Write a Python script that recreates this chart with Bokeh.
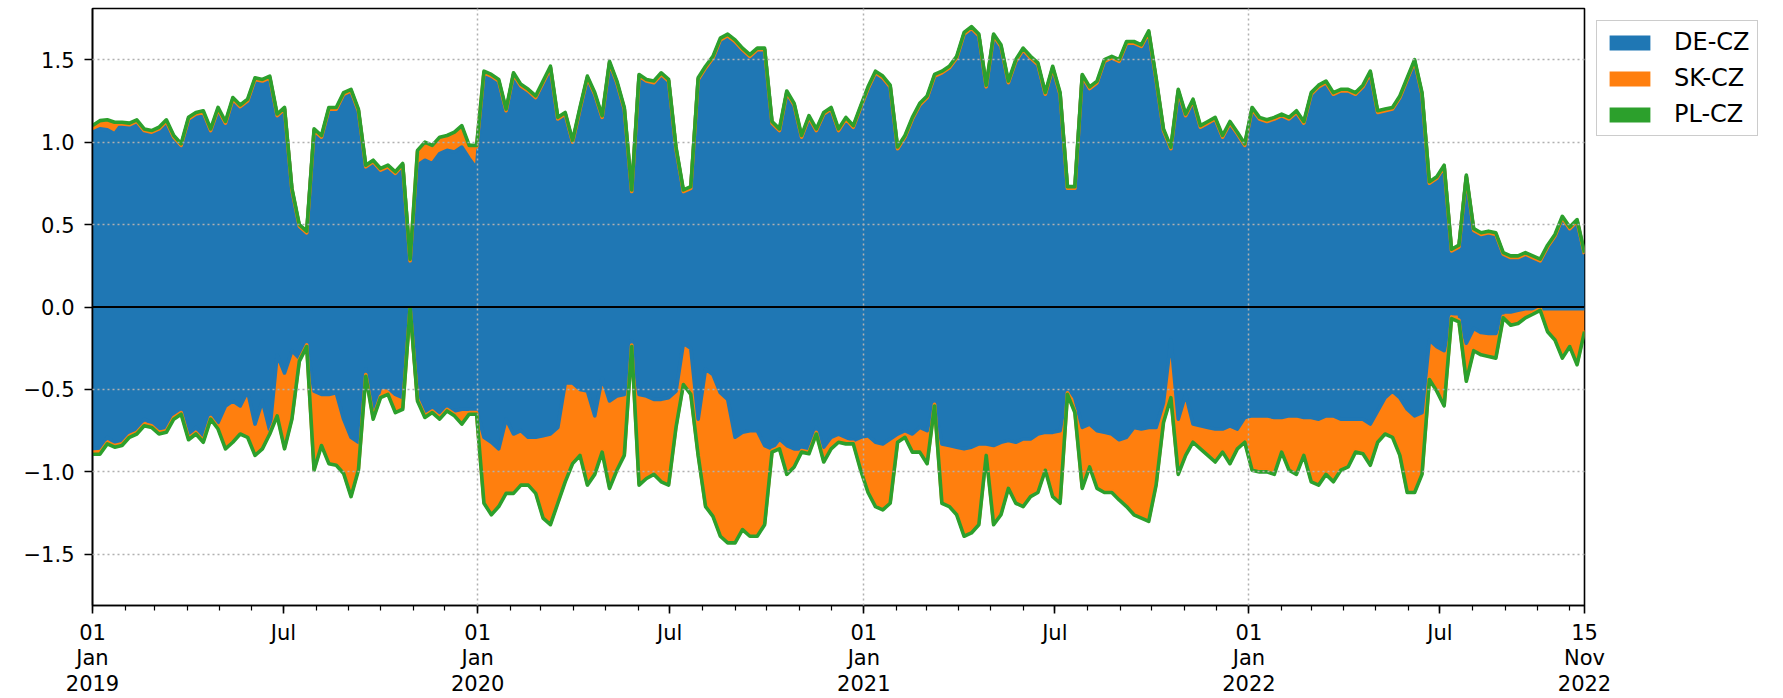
import numpy as np
import pandas as pd
from bokeh.plotting import figure
from bokeh.models import (ColumnDataSource, Range1d, FixedTicker, CustomJSTickFormatter,
                          Legend, LegendItem, Span)
from bokeh.embed import file_html
from bokeh.resources import INLINE

# ---------------- data (weekly samples) ----------------
start_date = "2019-01-01"
n_weeks = 203
dates = pd.date_range(start_date, periods=n_weeks, freq="7D")

series_names = ["DE-CZ", "SK-CZ", "PL-CZ"]
colors = ["#1f77b4", "#ff7f0e", "#2ca02c"]

de_pos = [
    1.06, 1.08, 1.075, 1.05, 1.11, 1.105, 1.125, 1.07, 1.06, 1.08,
    1.125, 1.03, 0.98, 1.14, 1.17, 1.18, 1.07, 1.20, 1.115, 1.26,
    1.215, 1.25, 1.38, 1.37, 1.39, 1.16, 1.20, 0.71, 0.49, 0.45,
    1.07, 1.03, 1.20, 1.20, 1.29, 1.31, 1.19, 0.85, 0.88, 0.83,
    0.85, 0.81, 0.86, 0.28, 0.86, 0.89, 0.87, 0.93, 0.95, 0.94,
    0.97, 0.90, 0.84, 1.42, 1.40, 1.37, 1.19, 1.41, 1.34, 1.31,
    1.27, 1.36, 1.45, 1.14, 1.17, 1.00, 1.20, 1.39, 1.29, 1.15,
    1.48, 1.36, 1.20, 0.70, 1.40, 1.37, 1.36, 1.41, 1.37, 0.96,
    0.70, 0.72, 1.38, 1.45, 1.51, 1.62, 1.645, 1.61, 1.56, 1.52,
    1.56, 1.56, 1.115, 1.07, 1.30, 1.225, 1.03, 1.15, 1.07, 1.17,
    1.20, 1.07, 1.14, 1.09, 1.21, 1.325, 1.42, 1.39, 1.335, 0.96,
    1.03, 1.14, 1.225, 1.27, 1.40, 1.42, 1.45, 1.51, 1.655, 1.69,
    1.645, 1.335, 1.645, 1.58, 1.36, 1.49, 1.56, 1.51, 1.47, 1.29,
    1.45, 1.29, 0.72, 0.72, 1.40, 1.325, 1.36, 1.49, 1.51, 1.49,
    1.60, 1.60, 1.58, 1.665, 1.38, 1.07, 0.96, 1.31, 1.16, 1.25,
    1.09, 1.115, 1.14, 1.03, 1.115, 1.05, 0.98, 1.20, 1.14, 1.125,
    1.14, 1.16, 1.14, 1.18, 1.115, 1.29, 1.335, 1.36, 1.29, 1.31,
    1.31, 1.29, 1.335, 1.42, 1.18, 1.19, 1.20, 1.27, 1.38, 1.49,
    1.29, 0.75, 0.78, 0.85, 0.34, 0.365, 0.79, 0.465, 0.44, 0.45,
    0.44, 0.32, 0.30, 0.30, 0.32, 0.30, 0.28, 0.365, 0.43, 0.54,
    0.475, 0.52, 0.32,
]
sk_pos = [
    0.03, 0.04, 0.05, 0.06, 0, 0, 0, 0, 0, 0,
    0, 0, 0, 0, 0, 0, 0, 0, 0, 0,
    0, 0, 0, 0, 0, 0, 0, 0, 0, 0,
    0, 0, 0, 0, 0, 0, 0, 0, 0, 0,
    0, 0, 0, 0, 0.08, 0.10, 0.10, 0.09, 0.08, 0.11,
    0.12, 0.07, 0.13, 0, 0, 0, 0, 0, 0, 0,
    0, 0, 0, 0, 0, 0, 0, 0, 0, 0,
    0, 0, 0, 0, 0, 0, 0, 0, 0, 0,
    0, 0, 0, 0, 0, 0, 0, 0, 0, 0,
    0, 0, 0, 0, 0, 0, 0, 0, 0, 0,
    0, 0, 0, 0, 0, 0, 0, 0, 0, 0,
    0, 0, 0, 0, 0, 0, 0, 0, 0, 0,
    0, 0, 0, 0, 0, 0, 0, 0, 0, 0,
    0, 0, 0, 0, 0, 0, 0, 0, 0, 0,
    0, 0, 0, 0, 0, 0, 0, 0, 0, 0,
    0, 0, 0, 0, 0, 0, 0, 0, 0, 0,
    0, 0, 0, 0, 0, 0, 0, 0, 0, 0,
    0, 0, 0, 0, 0, 0, 0, 0, 0, 0,
    0, 0, 0, 0, 0, 0, 0, 0, 0, 0,
    0, 0, 0, 0, 0, 0, 0, 0, 0, 0,
    0, 0, 0,
]
pl_pos = [
    0.01, 0.01, 0.01, 0.01, 0.01, 0.01, 0.01, 0.01, 0.01, 0.01,
    0.01, 0.01, 0.01, 0.01, 0.01, 0.01, 0.01, 0.01, 0.01, 0.01,
    0.01, 0.01, 0.01, 0.01, 0.01, 0.01, 0.01, 0.01, 0.01, 0.01,
    0.01, 0.01, 0.01, 0.01, 0.01, 0.01, 0.01, 0.01, 0.01, 0.01,
    0.01, 0.01, 0.01, 0.01, 0.01, 0.01, 0.01, 0.01, 0.01, 0.01,
    0.01, 0.01, 0.01, 0.01, 0.01, 0.01, 0.01, 0.01, 0.01, 0.01,
    0.01, 0.01, 0.01, 0.01, 0.01, 0.01, 0.01, 0.01, 0.01, 0.01,
    0.01, 0.01, 0.01, 0.01, 0.01, 0.01, 0.01, 0.01, 0.01, 0.01,
    0.01, 0.01, 0.01, 0.01, 0.01, 0.01, 0.01, 0.01, 0.01, 0.01,
    0.01, 0.01, 0.01, 0.01, 0.01, 0.01, 0.01, 0.01, 0.01, 0.01,
    0.01, 0.01, 0.01, 0.01, 0.01, 0.01, 0.01, 0.01, 0.01, 0.01,
    0.01, 0.01, 0.01, 0.01, 0.01, 0.01, 0.01, 0.01, 0.01, 0.01,
    0.01, 0.01, 0.01, 0.01, 0.01, 0.01, 0.01, 0.01, 0.01, 0.01,
    0.01, 0.01, 0.01, 0.01, 0.01, 0.01, 0.01, 0.01, 0.01, 0.01,
    0.01, 0.01, 0.01, 0.01, 0.01, 0.01, 0.01, 0.01, 0.01, 0.01,
    0.01, 0.01, 0.01, 0.01, 0.01, 0.01, 0.01, 0.01, 0.01, 0.01,
    0.01, 0.01, 0.01, 0.01, 0.01, 0.01, 0.01, 0.01, 0.01, 0.01,
    0.01, 0.01, 0.01, 0.01, 0.01, 0.01, 0.01, 0.01, 0.01, 0.01,
    0.01, 0.01, 0.01, 0.01, 0.01, 0.01, 0.01, 0.01, 0.01, 0.01,
    0.01, 0.01, 0.01, 0.01, 0.01, 0.01, 0.01, 0.01, 0.01, 0.01,
    0.01, 0.01, 0.01,
]
de_neg = [
    -0.86, -0.855, -0.79, -0.825, -0.815, -0.76, -0.75, -0.68, -0.705, -0.74,
    -0.73, -0.65, -0.63, -0.78, -0.73, -0.79, -0.66, -0.70, -0.60, -0.57,
    -0.60, -0.51, -0.71, -0.57, -0.75, -0.29, -0.40, -0.265, -0.31, -0.23,
    -0.51, -0.53, -0.53, -0.52, -0.68, -0.79, -0.82, -0.375, -0.65, -0.485,
    -0.49, -0.53, -0.55, -0.005, -0.54, -0.64, -0.61, -0.64, -0.60, -0.63,
    -0.62, -0.62, -0.62, -0.79, -0.82, -0.86, -0.68, -0.77, -0.75, -0.79,
    -0.79, -0.78, -0.77, -0.73, -0.46, -0.46, -0.50, -0.51, -0.66, -0.43,
    -0.57, -0.54, -0.53, -0.20, -0.53, -0.54, -0.56, -0.56, -0.55, -0.51,
    -0.22, -0.25, -0.68, -0.375, -0.41, -0.52, -0.56, -0.79, -0.76, -0.75,
    -0.75, -0.84, -0.86, -0.80, -0.84, -0.86, -0.86, -0.87, -0.73, -0.85,
    -0.79, -0.77, -0.79, -0.81, -0.79, -0.78, -0.82, -0.83, -0.80, -0.77,
    -0.75, -0.77, -0.73, -0.75, -0.58, -0.83, -0.84, -0.85, -0.86, -0.85,
    -0.83, -0.83, -0.84, -0.82, -0.81, -0.82, -0.80, -0.80, -0.77, -0.76,
    -0.76, -0.75, -0.485, -0.55, -0.73, -0.71, -0.75, -0.76, -0.77, -0.805,
    -0.79, -0.73, -0.74, -0.73, -0.73, -0.58, -0.20, -0.68, -0.53, -0.71,
    -0.72, -0.73, -0.74, -0.74, -0.72, -0.74, -0.67, -0.66, -0.66, -0.66,
    -0.67, -0.67, -0.66, -0.66, -0.67, -0.67, -0.68, -0.66, -0.66, -0.68,
    -0.68, -0.68, -0.68, -0.71, -0.63, -0.55, -0.51, -0.55, -0.62, -0.66,
    -0.64, -0.20, -0.24, -0.265, -0.04, -0.04, -0.22, -0.13, -0.155, -0.16,
    -0.16, -0.03, -0.03, -0.02, -0.01, -0.01, -0.01, -0.01, -0.01, -0.01,
    -0.01, -0.01, -0.01,
]
sk_neg = [
    -0.023, -0.028, -0.03, -0.015, -0.015, -0.02, -0.01, -0.03, -0.015, -0.02,
    -0.02, -0.02, -0.01, -0.015, -0.03, -0.02, -0.01, -0.03, -0.25, -0.24,
    -0.16, -0.27, -0.18, -0.28, -0.01, -0.36, -0.45, -0.405, -0.01, 0.0,
    -0.47, -0.30, -0.41, -0.43, -0.32, -0.35, -0.16, -0.035, -0.02, -0.055,
    -0.03, -0.10, -0.06, 0.0, -0.02, -0.02, -0.02, -0.03, -0.02, -0.02,
    -0.08, -0.02, -0.02, -0.39, -0.43, -0.34, -0.44, -0.35, -0.32, -0.28,
    -0.33, -0.49, -0.54, -0.45, -0.59, -0.48, -0.39, -0.56, -0.345, -0.44,
    -0.52, -0.44, -0.36, -0.03, -0.54, -0.49, -0.445, -0.49, -0.52, -0.21,
    -0.24, -0.27, -0.21, -0.825, -0.85, -0.86, -0.86, -0.63, -0.58, -0.63,
    -0.63, -0.47, -0.01, -0.05, -0.165, -0.10, -0.01, -0.01, -0.03, -0.08,
    -0.06, -0.04, -0.03, -0.01, -0.19, -0.335, -0.38, -0.39, -0.38, -0.04,
    -0.03, -0.10, -0.14, -0.19, -0.01, -0.35, -0.36, -0.40, -0.52, -0.51,
    -0.48, -0.06, -0.47, -0.43, -0.28, -0.36, -0.40, -0.34, -0.345, -0.22,
    -0.38, -0.43, -0.035, -0.08, -0.36, -0.25, -0.34, -0.355, -0.345, -0.355,
    -0.41, -0.52, -0.53, -0.56, -0.34, -0.11, -0.34, -0.325, -0.36, -0.10,
    -0.13, -0.16, -0.19, -0.13, -0.22, -0.11, -0.14, -0.32, -0.33, -0.33,
    -0.335, -0.20, -0.32, -0.345, -0.22, -0.38, -0.39, -0.345, -0.39, -0.30,
    -0.28, -0.19, -0.20, -0.24, -0.18, -0.21, -0.27, -0.34, -0.495, -0.455,
    -0.365, -0.23, -0.26, -0.325, -0.02, -0.04, -0.22, -0.125, -0.125, -0.13,
    -0.14, -0.026, -0.07, -0.07, -0.046, -0.024, 0.0, -0.13, -0.18, -0.29,
    -0.22, -0.33, -0.13,
]
pl_neg = [
    -0.01, -0.01, -0.01, -0.01, -0.01, -0.01, -0.01, -0.01, -0.01, -0.01,
    -0.01, -0.01, -0.01, -0.01, -0.01, -0.01, -0.01, -0.01, -0.01, -0.01,
    -0.01, -0.01, -0.01, -0.01, -0.01, -0.01, -0.01, -0.01, -0.01, -0.01,
    -0.01, -0.01, -0.01, -0.01, -0.01, -0.01, -0.01, -0.01, -0.01, -0.01,
    -0.01, -0.01, -0.01, 0.0, -0.01, -0.01, -0.01, -0.01, -0.01, -0.01,
    -0.01, -0.01, -0.01, -0.01, -0.01, -0.01, -0.01, -0.01, -0.01, -0.01,
    -0.01, -0.01, -0.01, -0.01, -0.01, -0.01, -0.01, -0.01, -0.01, -0.01,
    -0.01, -0.01, -0.01, -0.01, -0.01, -0.01, -0.01, -0.01, -0.01, -0.01,
    -0.01, -0.01, -0.01, -0.01, -0.01, -0.01, -0.01, -0.01, -0.01, -0.01,
    -0.01, -0.01, -0.01, -0.01, -0.01, -0.01, -0.01, -0.01, -0.01, -0.01,
    -0.01, -0.01, -0.01, -0.01, -0.01, -0.01, -0.01, -0.01, -0.01, -0.01,
    -0.01, -0.01, -0.01, -0.01, -0.01, -0.01, -0.01, -0.01, -0.01, -0.01,
    -0.01, -0.01, -0.01, -0.01, -0.01, -0.01, -0.01, -0.01, -0.01, -0.01,
    -0.01, -0.01, -0.01, -0.01, -0.01, -0.01, -0.01, -0.01, -0.01, -0.01,
    -0.01, -0.01, -0.01, -0.01, -0.01, -0.01, -0.01, -0.01, -0.01, -0.01,
    -0.01, -0.01, -0.01, -0.01, -0.01, -0.01, -0.01, -0.01, -0.01, -0.01,
    -0.01, -0.01, -0.01, -0.01, -0.01, -0.01, -0.01, -0.01, -0.01, -0.01,
    -0.01, -0.01, -0.01, -0.01, -0.01, -0.01, -0.01, -0.01, -0.01, -0.01,
    -0.01, -0.01, -0.01, -0.01, -0.01, -0.01, -0.01, -0.01, -0.01, -0.01,
    -0.01, -0.01, -0.01, -0.01, -0.01, -0.01, -0.01, -0.01, -0.01, -0.01,
    -0.01, -0.01, -0.01,
]

x_tick_dates = ["2019-01-01", "2019-07-01", "2020-01-01", "2020-07-01", "2021-01-01",
                "2021-07-01", "2022-01-01", "2022-07-01", "2022-11-15"]
x_tick_labels = ["01\nJan\n2019", "Jul", "01\nJan\n2020", "Jul", "01\nJan\n2021",
                 "Jul", "01\nJan\n2022", "Jul", "15\nNov\n2022"]
x_grid_dates = ["2020-01-01", "2021-01-01", "2022-01-01"]
x_end_date = "2022-11-15"
y_ticks = [-1.5, -1.0, -0.5, 0.0, 0.5, 1.0, 1.5]
y_tick_labels = ["\u22121.5", "\u22121.0", "\u22120.5", "0.0", "0.5", "1.0", "1.5"]
y_grid_values = [-1.5, -1.0, -0.5, 0.5, 1.0, 1.5]
y_limit = 1.81

# ---------------- build stacks ----------------
def ms(d):
    return pd.Timestamp(d).value / 1e6

pos = [np.array(de_pos, float), np.array(sk_pos, float), np.array(pl_pos, float)]
neg = [np.array(de_neg, float), np.array(sk_neg, float), np.array(pl_neg, float)]
data = {"x": dates.values}
acc_p = np.zeros(n_weeks)
acc_n = np.zeros(n_weeks)
data["p0"] = acc_p.copy()
data["n0"] = acc_n.copy()
for i in range(3):
    acc_p = acc_p + pos[i]
    acc_n = acc_n + neg[i]
    data["p%d" % (i + 1)] = acc_p.copy()
    data["n%d" % (i + 1)] = acc_n.copy()
src = ColumnDataSource(data)

FONT = "DejaVu Sans"

p = figure(x_axis_type="datetime", frame_width=1492, height=698,
           x_range=Range1d(ms(start_date), ms(x_end_date)),
           y_range=Range1d(-y_limit, y_limit),
           output_backend="svg", toolbar_location=None,
           min_border_left=92, min_border_top=8, min_border_right=0, min_border_bottom=0)
p.background_fill_color = "white"
p.border_fill_color = "white"

fills = []
for i in range(3):
    r = p.varea(x="x", y1="p%d" % i, y2="p%d" % (i + 1), source=src,
                fill_color=colors[i], fill_alpha=1.0)
    fills.append(r)
for i in range(3):
    p.varea(x="x", y1="n%d" % i, y2="n%d" % (i + 1), source=src,
            fill_color=colors[i], fill_alpha=1.0)
for i in range(3):
    p.line(x="x", y="p%d" % (i + 1), source=src, line_color=colors[i],
           line_width=3.6, line_join="round")
for i in range(3):
    p.line(x="x", y="n%d" % (i + 1), source=src, line_color=colors[i],
           line_width=3.6, line_join="round")

p.add_layout(Span(location=0, dimension="width", line_color="black", line_width=2))

# ---------------- axes ----------------
LOOKUP = """
    let best = 0;
    for (let i = 0; i < tvals.length; i++) {
        if (Math.abs(tvals[i] - tick) < Math.abs(tvals[best] - tick)) best = i;
    }
    return tlabels[best];
"""
major_ms = [ms(d) for d in x_tick_dates]
minor_ms = [ms(d) for d in pd.date_range(start_date, x_end_date, freq="MS")]
p.xaxis.ticker = FixedTicker(ticks=major_ms, minor_ticks=minor_ms)
p.xaxis.formatter = CustomJSTickFormatter(args=dict(tvals=major_ms, tlabels=x_tick_labels), code=LOOKUP)
p.yaxis.ticker = FixedTicker(ticks=y_ticks)
p.yaxis.formatter = CustomJSTickFormatter(args=dict(tvals=y_ticks, tlabels=y_tick_labels), code=LOOKUP)

for ax in (p.xaxis, p.yaxis):
    ax.axis_line_color = "black"
    ax.axis_line_width = 1.6
    ax.major_tick_line_color = "black"
    ax.major_tick_line_width = 1.6
    ax.major_tick_out = 8
    ax.major_tick_in = 0
    ax.major_label_text_font = FONT
    ax.major_label_text_font_size = "21px"
    ax.major_label_text_color = "black"
p.yaxis.major_label_standoff = 10
p.xaxis.major_label_standoff = 7
p.xaxis.minor_tick_line_color = "black"
p.xaxis.minor_tick_line_width = 1.2
p.xaxis.minor_tick_out = 5
p.xaxis.minor_tick_in = 0
p.xaxis.major_label_text_line_height = 1.07
p.yaxis.minor_tick_line_color = None

p.outline_line_color = "black"
p.outline_line_width = 1.6
p.outline_line_alpha = 1.0

# ---------------- grid ----------------
p.xgrid.ticker = FixedTicker(ticks=[ms(d) for d in x_grid_dates])
p.ygrid.ticker = FixedTicker(ticks=y_grid_values)
for g in (p.xgrid, p.ygrid):
    g.grid_line_color = "#b0b0b0"
    g.grid_line_width = 1.5
    g.grid_line_dash = "2 3"
    g.level = "overlay"

# ---------------- legend ----------------
legend = Legend(items=[LegendItem(label=series_names[i], renderers=[fills[i]]) for i in range(3)],
                location="top_left")
legend.margin = 12
legend.padding = 7
legend.spacing = 8
legend.glyph_width = 51
legend.glyph_height = 19
legend.label_standoff = 19
legend.label_text_font = FONT
legend.label_text_font_size = "24px"
legend.label_text_color = "black"
legend.border_line_color = "#cccccc"
legend.border_line_width = 1.6
legend.border_line_alpha = 1.0
legend.background_fill_color = "white"
legend.background_fill_alpha = 0.8
p.add_layout(legend, "right")

open("out.html", "w").write(file_html(p, INLINE))
